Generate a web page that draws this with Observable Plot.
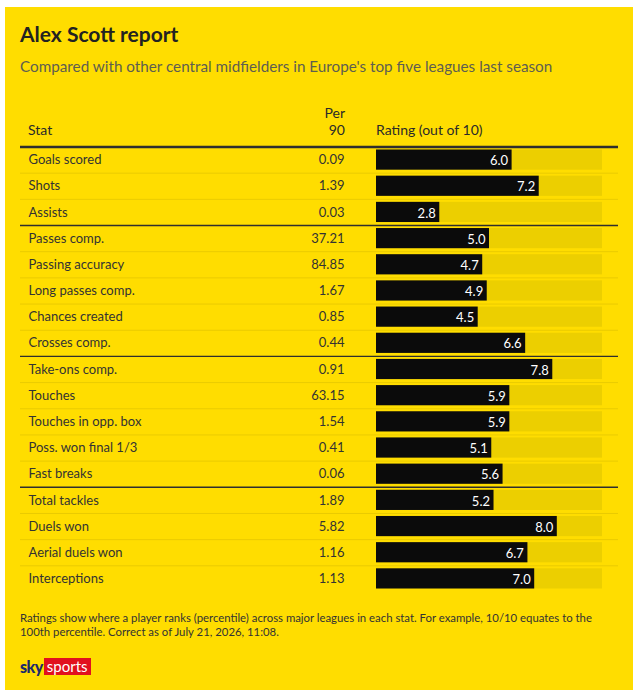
<!DOCTYPE html>
<html>
<head>
<meta charset="utf-8">
<script src="https://cdn.jsdelivr.net/npm/d3@7"></script>
<script src="https://cdn.jsdelivr.net/npm/@observablehq/plot@0.6"></script>
<style>
  html, body { margin: 0; padding: 0; background: #ffffff; }
  body { width: 639px; height: 694px; position: relative; font-family: Lato, "Open Sans", sans-serif; }
  #panel { position: absolute; left: 5px; top: 7px; width: 628px; height: 683px; background: #FFDD00; }
  .abs { position: absolute; white-space: nowrap; }
  #title { left: 15px; top: 15px; font-size: 21px; line-height: 24px; font-weight: 700; color: #222; }
  #subtitle { left: 15px; top: 49px; font-size: 15.25px; line-height: 20px; color: #5e5e50; }
  .hdr { font-size: 14px; line-height: 17px; color: #2a2a2a; }
  #foot { left: 15px; top: 604px; font-size: 11.35px; line-height: 14px; color: #333; }
  #logo { left: 15px; top: 651px; height: 16px; display: flex; align-items: center; }
  #logo .sky { font-weight: 900; color: #1c2a6b; font-size: 16px; letter-spacing: -0.5px; margin-right: 1px; }
  #logo .sports { background: #e1101e; color: #fff; font-size: 15px; padding: 0 3px; height: 17px; line-height: 17px; }
  #chart { position: absolute; left: 15px; top: 138px; }
</style>
</head>
<body>
<div id="panel">
  <div id="title" class="abs">Alex Scott report</div>
  <div id="subtitle" class="abs">Compared with other central midfielders in Europe's top five leagues last season</div>
  <div class="abs hdr" style="left:23px; top:114px;">Stat</div>
  <div class="abs hdr" style="left:290px; width:50px; top:97px; text-align:right;">Per<br>90</div>
  <div class="abs hdr" style="left:371px; top:114px;">Rating (out of 10)</div>
  <div id="chart"></div>
  <div id="foot" class="abs">Ratings show where a player ranks (percentile) across major leagues in each stat. For example, 10/10 equates to the<br>100th percentile. Correct as of July 21, 2026, 11:08.</div>
  <div id="logo" class="abs"><span class="sky">sky</span><span class="sports">sports</span></div>
</div>
<script>
const stats = ["Goals scored", "Shots", "Assists", "Passes comp.", "Passing accuracy", "Long passes comp.", "Chances created", "Crosses comp.", "Take-ons comp.", "Touches", "Touches in opp. box", "Poss. won final 1/3", "Fast breaks", "Total tackles", "Duels won", "Aerial duels won", "Interceptions"];
const per90 = ["0.09", "1.39", "0.03", "37.21", "84.85", "1.67", "0.85", "0.44", "0.91", "63.15", "1.54", "0.41", "0.06", "1.89", "5.82", "1.16", "1.13"];
const ratings = [6.0, 7.2, 2.8, 5.0, 4.7, 4.9, 4.5, 6.6, 7.8, 5.9, 5.9, 5.1, 5.6, 5.2, 8.0, 6.7, 7.0];
const groups = [1, 1, 1, 2, 2, 2, 2, 2, 3, 3, 3, 3, 3, 4, 4, 4, 4];
const ratingMax = 10;

const rows = stats.map((s, i) => ({i, stat: s, per90: per90[i], rating: ratings[i], group: groups[i]}));
const thin = rows.filter((d, k) => k > 0 && groups[k] === groups[k - 1]);
const thick = rows.filter((d, k) => k > 0 && groups[k] !== groups[k - 1]);

const FONT = "Lato, 'Open Sans', sans-serif";
const chart = Plot.plot({
  width: 598,
  height: 450,
  marginLeft: 0, marginRight: 0, marginTop: 0, marginBottom: 0,
  style: {background: "transparent", fontFamily: FONT, fontSize: "13px", color: "#333"},
  x: {domain: [0, ratingMax], range: [356, 582], axis: null},
  y: {domain: [0, rows.length], range: [1.5, 446.5], axis: null},
  marks: [
    Plot.ruleY(thin, {y: "i", stroke: "#EACB00", strokeWidth: 1}),
    Plot.ruleY(thick, {y: "i", stroke: "#2e2e2e", strokeWidth: 1.4}),
    Plot.ruleY([0], {stroke: "#2e2e2e", strokeWidth: 2.6}),
    Plot.rectX(rows, {x1: 0, x2: () => ratingMax, y1: "i", y2: (d) => d.i + 1, insetTop: 3, insetBottom: 3, fill: "#ECCF00"}),
    Plot.rectX(rows, {x1: 0, x2: "rating", y1: "i", y2: (d) => d.i + 1, insetTop: 3, insetBottom: 3, fill: "#0b0b0b"}),
    Plot.text(rows, {x: "rating", y: (d) => d.i + 0.5, text: (d) => d.rating.toFixed(1), textAnchor: "end", dx: -4, dy: 1, fill: "#ffffff", fontSize: 13}),
    Plot.text(rows, {frameAnchor: "left", y: (d) => d.i + 0.5, text: "stat", textAnchor: "start", dx: 8, fill: "#333", fontSize: 13}),
    Plot.text(rows, {frameAnchor: "left", y: (d) => d.i + 0.5, text: "per90", textAnchor: "end", dx: 324, fill: "#333", fontSize: 13})
  ]
});
document.getElementById("chart").appendChild(chart);
</script>
</body>
</html>
